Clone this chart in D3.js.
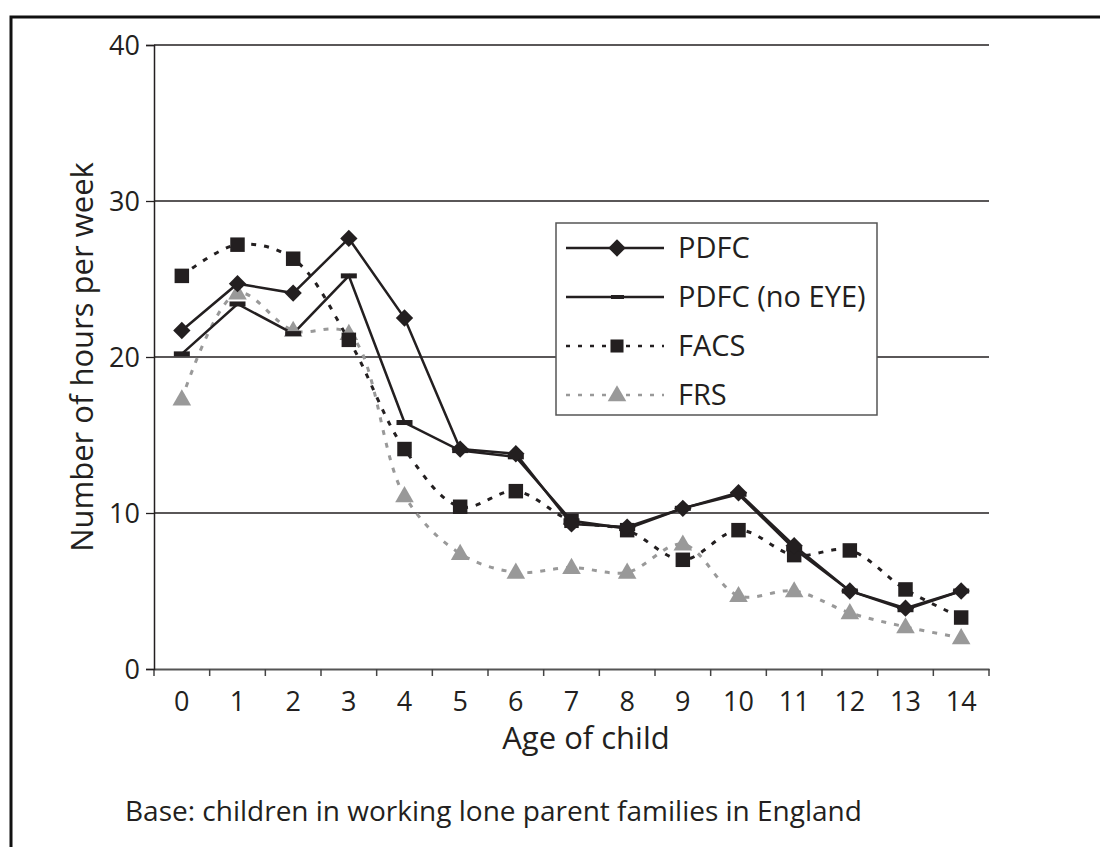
<!DOCTYPE html>
<html>
<head>
<meta charset="utf-8">
<script src="https://cdn.jsdelivr.net/npm/d3@7"></script>
<style>
  body { margin: 0; background: #fff; }
  svg { font-family: "Open Sans", sans-serif; fill: #231f20; }
</style>
</head>
<body>
<svg id="chart" width="1100" height="847"></svg>
<script>
var ages = ["0","1","2","3","4","5","6","7","8","9","10","11","12","13","14"];
var pdfc =      [21.7, 24.7, 24.1, 27.6, 22.5, 14.1, 13.8, 9.3, 9.1, 10.3, 11.3, 7.9, 5.0, 3.9, 5.0];
var pdfcNoEye = [20.2, 23.4, 21.5, 25.2, 15.8, 14.0, 13.6, 9.5, 9.0, 10.3, 11.2, 7.7, 5.0, 3.8, 5.0];
var facs =      [25.2, 27.2, 26.3, 21.1, 14.1, 10.4, 11.4, 9.5, 8.9, 7.0, 8.9, 7.3, 7.6, 5.1, 3.3];
var frs =       [17.3, 24.1, 21.7, 21.5, 11.1, 7.4, 6.2, 6.5, 6.2, 8.0, 4.7, 5.0, 3.6, 2.7, 2.0];
var yTicks = [0, 10, 20, 30, 40];
var seriesNames = ["PDFC", "PDFC (no EYE)", "FACS", "FRS"];

var margin = {top: 45, right: 111, bottom: 178, left: 154};
var width = 1100 - margin.left - margin.right,
    height = 847 - margin.top - margin.bottom;

var svg = d3.select("#chart");

// outer frame, runs off the right and bottom edge
svg.append("rect")
    .attr("x", 11).attr("y", 17)
    .attr("width", 1200).attr("height", 1000)
    .attr("fill", "none")
    .attr("stroke", "#111")
    .attr("stroke-width", 3);

var g = svg.append("g")
    .attr("transform", "translate(" + margin.left + "," + margin.top + ")");

var xScale = d3.scaleBand()
    .domain(ages)
    .range([0, width]);

var yScale = d3.scaleLinear()
    .domain([0, 40])
    .range([height, 0]);

// gridlines
g.selectAll(".grid")
    .data(yTicks.filter(function(d) { return d > 0; }))
    .enter().append("line")
    .attr("x1", 0).attr("x2", width)
    .attr("y1", function(d) { return yScale(d); })
    .attr("y2", function(d) { return yScale(d); })
    .attr("stroke", "#231f20")
    .attr("stroke-width", 1.3);

var xAxis = d3.axisBottom(xScale).tickSize(0);
var xg = g.append("g")
    .attr("transform", "translate(0," + height + ")")
    .call(xAxis)
    .attr("font-family", "Open Sans, sans-serif")
    .attr("font-size", 27);
xg.select(".domain").attr("stroke", "#555").attr("stroke-width", 2);
xg.selectAll(".tick text")
    .attr("y", 42).attr("dy", null)
    .attr("fill", "#231f20");

// tick marks sit on the band edges
xg.selectAll(".edge")
    .data(d3.range(ages.length + 1))
    .enter().append("line")
    .attr("x1", function(i) { return i * xScale.bandwidth(); })
    .attr("x2", function(i) { return i * xScale.bandwidth(); })
    .attr("y1", 0).attr("y2", 7)
    .attr("stroke", "#444")
    .attr("stroke-width", 1.5);

var yAxis = d3.axisLeft(yScale).tickValues(yTicks).tickSize(8).tickPadding(6);
var yg = g.append("g").call(yAxis)
    .attr("font-family", "Open Sans, sans-serif")
    .attr("font-size", 27);
yg.select(".domain").attr("stroke", "#231f20").attr("stroke-width", 1.5);
yg.selectAll(".tick line").attr("stroke", "#231f20").attr("stroke-width", 1.3);
yg.selectAll(".tick text").attr("fill", "#231f20").attr("dy", "0.36em");

var xPos = function(i) { return xScale(ages[i]) + xScale.bandwidth() / 2; };

var straight = d3.line()
    .x(function(d, i) { return xPos(i); })
    .y(function(d) { return yScale(d); });

var smooth = d3.line()
    .x(function(d, i) { return xPos(i); })
    .y(function(d) { return yScale(d); })
    .curve(d3.curveCatmullRom.alpha(0.5));

var black = "#231f20", grey = "#999999";

var symDiamond = d3.symbol().type(d3.symbolSquare).size(150)();
var symSquare = d3.symbol().type(d3.symbolSquare).size(210)();
var symTriangle = d3.symbol().type(d3.symbolTriangle).size(150)();

// FRS
g.append("path").datum(frs)
    .attr("d", smooth).attr("fill", "none")
    .attr("stroke", grey).attr("stroke-width", 3)
    .attr("stroke-dasharray", "5,8");
// FACS
g.append("path").datum(facs)
    .attr("d", smooth).attr("fill", "none")
    .attr("stroke", black).attr("stroke-width", 3)
    .attr("stroke-dasharray", "5,8");
// PDFC (no EYE)
g.append("path").datum(pdfcNoEye)
    .attr("d", straight).attr("fill", "none")
    .attr("stroke", black).attr("stroke-width", 2.5);
// PDFC
g.append("path").datum(pdfc)
    .attr("d", straight).attr("fill", "none")
    .attr("stroke", black).attr("stroke-width", 2.5);

g.selectAll(".tri").data(frs).enter().append("path")
    .attr("d", symTriangle)
    .attr("transform", function(d, i) { return "translate(" + xPos(i) + "," + (yScale(d) + 1) + ")"; })
    .attr("fill", grey);

g.selectAll(".sq").data(facs).enter().append("path")
    .attr("d", symSquare)
    .attr("transform", function(d, i) { return "translate(" + xPos(i) + "," + yScale(d) + ")"; })
    .attr("fill", black);

g.selectAll(".dash").data(pdfcNoEye).enter().append("rect")
    .attr("x", function(d, i) { return xPos(i) - 8; })
    .attr("y", function(d) { return yScale(d) - 2.5; })
    .attr("width", 16).attr("height", 5)
    .attr("fill", black);

g.selectAll(".dia").data(pdfc).enter().append("path")
    .attr("d", symDiamond)
    .attr("transform", function(d, i) { return "translate(" + xPos(i) + "," + yScale(d) + ") rotate(45)"; })
    .attr("fill", black);

// legend
var legend = svg.append("g").attr("transform", "translate(556,223)");
legend.append("rect")
    .attr("width", 321).attr("height", 192)
    .attr("fill", "#fff")
    .attr("stroke", "#555").attr("stroke-width", 1.5);

var rows = legend.selectAll(".row").data(seriesNames).enter().append("g")
    .attr("transform", function(d, i) { return "translate(0," + (25 + i * 49) + ")"; });

rows.append("line")
    .attr("x1", 10).attr("x2", 108)
    .attr("stroke", function(d, i) { return i == 3 ? grey : black; })
    .attr("stroke-width", 2.5)
    .attr("stroke-dasharray", function(d, i) { return i < 2 ? null : "4,8"; });

rows.append("text")
    .attr("x", 122).attr("y", 0).attr("dy", "0.36em")
    .style("font-size", "29px")
    .attr("fill", black)
    .text(function(d) { return d; });

legend.append("path").attr("d", symDiamond)
    .attr("transform", "translate(61,25) rotate(45)").attr("fill", black);
legend.append("rect").attr("x", 55).attr("y", 72).attr("width", 13).attr("height", 4).attr("fill", black);
legend.append("path").attr("d", d3.symbol().type(d3.symbolSquare).size(170)())
    .attr("transform", "translate(61,123)").attr("fill", black);
legend.append("path").attr("d", d3.symbol().type(d3.symbolTriangle).size(150)())
    .attr("transform", "translate(61,173)").attr("fill", grey);

// axis titles and note
svg.append("text")
    .attr("x", 586).attr("y", 749)
    .attr("text-anchor", "middle")
    .style("font-size", "31px")
    .text("Age of child");

svg.append("text")
    .attr("transform", "translate(93,357) rotate(-90)")
    .attr("text-anchor", "middle")
    .style("font-size", "31px")
    .text("Number of hours per week");

svg.append("text")
    .attr("x", 125).attr("y", 821)
    .style("font-size", "28px")
    .text("Base: children in working lone parent families in England");
</script>
</body>
</html>
